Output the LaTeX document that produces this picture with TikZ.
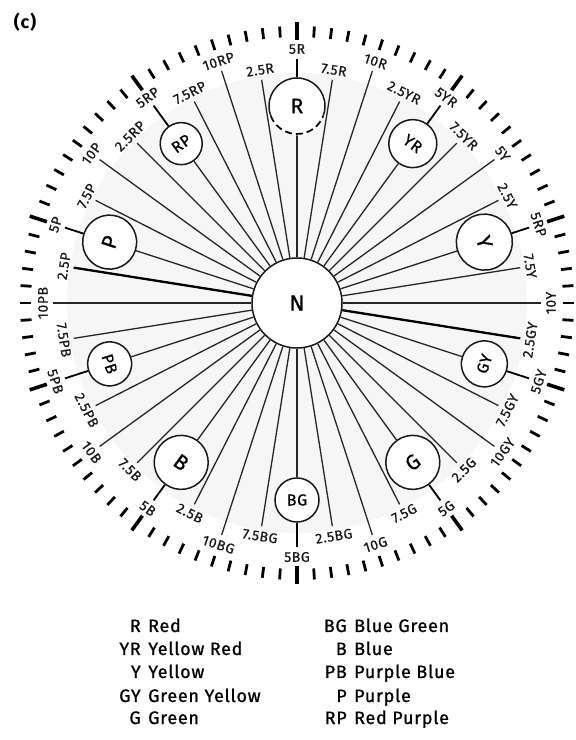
\documentclass[tikz,border=0pt]{standalone}
\usepackage{fontspec}
\setmainfont{Fira Sans}[LetterSpace=6]
\newfontfamily\labfont{Fira Sans}[LetterSpace=4,FakeBold=0.7]
\newfontfamily\legfont{Fira Sans}[LetterSpace=4,FakeBold=0.9]
\usetikzlibrary{calc}
\newcommand\rotfor[2]{%
  \pgfmathsetmacro\tmpan{180-mod(180-(#2),360)}%
  \pgfmathsetmacro#1{\tmpan>0 ? \tmpan-90 : \tmpan+90}}
\begin{document}
\begin{tikzpicture}[x=1pt,y=1pt,
  spoke/.style={line width=1.3pt, black!85},
  axisline/.style={line width=2.3pt, black},
  stub/.style={line width=1.8pt, black},
  huecirc/.style={circle, draw=black!90, line width=1.5pt, fill=white, inner sep=0pt},
  lbl/.style={font=\labfont\fontsize{14}{14}\selectfont, inner sep=0pt, text=black!90},
  tickmark/.style={line width=2.8pt, black},
  bigtick/.style={line width=3.6pt, black},
  legab/.style={anchor=base east, font=\legfont\fontsize{18}{18}\selectfont, inner sep=0pt},
  legname/.style={anchor=base west, font=\legfont\fontsize{18}{18}\selectfont, inner sep=0pt},
]
\useasboundingbox (0,0) rectangle (576,740);
\coordinate (O) at (297,437);
\fill[gray!7] (O) circle (230);
% outer ring of ticks
\foreach \k in {0,...,99}{
  \pgfmathsetmacro\a{90+3.6*\k}
  \pgfmathtruncatemacro\m{mod(\k,10)}
  \ifnum\m=0
    \draw[bigtick] ($(O)+(\a:263)$) -- ($(O)+(\a:281)$);
  \else
    \draw[tickmark] ($(O)+(\a:266)$) -- ($(O)+(\a:277)$);
  \fi
}
% neutral centre
\node[circle, draw=black!90, line width=1.5pt, fill=white, minimum size=90pt, inner sep=0pt,
      font=\labfont\fontsize{22}{22}\selectfont] (N) at (O) {N};
% hues
\foreach \h/\p/\cr/\fs/\ta/\tb/\tc/\td in {
  R/90/28/21/2.5R/5R/7.5R/10R,
  YR/54/24/16/2.5YR/5YR/7.5YR/5Y,
  Y/18/28/21/2.5Y/5RP/7.5Y/10Y,
  GY/-18/23/16/2.5GY/5GY/7.5GY/10GY,
  G/-54/27/21/2.5G/5G/7.5G/10G,
  BG/-90/22/16/2.5BG/5BG/7.5BG/10BG,
  B/-126/27/21/2.5B/5B/7.5B/10B,
  PB/-162/22/16/2.5PB/5PB/7.5PB/10PB,
  P/162/27/21/2.5P/5P/7.5P/10P,
  RP/126/21/16/2.5RP/5RP/7.5RP/10RP}{
  \pgfmathsetmacro\dia{2*\cr}
  \pgfmathsetmacro\pa{\p+9}
  \pgfmathsetmacro\pc{\p-9}
  \pgfmathsetmacro\pd{\p-18}
  \rotfor\rb{\p}
  \rotfor\ra{\pa}
  \rotfor\rc{\pc}
  \rotfor\rd{\pd}
  % circle with hue letter
  \node[huecirc, minimum size=\dia pt, rotate=\rb, font=\labfont\fontsize{\fs}{\fs}\selectfont]
       (c\h) at ($(O)+(\p:197)$) {\h};
  % end points
  \coordinate (e\h a) at ($(O)+(\pa:226)$);
  \coordinate (e\h b) at ($(O)+(\p:244)$);
  \coordinate (e\h c) at ($(O)+(\pc:226)$);
  \coordinate (e\h d) at ($(O)+(\pd:244)$);
  % spokes
  \draw[spoke] (N) -- (e\h a);
  \draw[spoke] (N) -- (c\h);
  \draw[stub] (c\h) -- (e\h b);
  \draw[spoke] (N) -- (e\h c);
  \draw[spoke] (N) -- (e\h d);
  % labels
  \node[lbl, rotate=\ra] (l\h a) at ($(O)+(\pa:236)$) {\ta};
  \node[lbl, rotate=\rb] (l\h b) at ($(O)+(\p:254)$) {\tb};
  \node[lbl, rotate=\rc] (l\h c) at ($(O)+(\pc:236)$) {\tc};
  \node[lbl, rotate=\rd] (l\h d) at ($(O)+(\pd:254)$) {\td};
}
% the bold axis 2.5P -- 2.5GY
\draw[axisline] (N) -- (ePa);
\draw[axisline] (N) -- (eGYa);
% dashed lower part of the R circle
\draw[white, line width=2.8pt] ([shift={(200:28)}]cR.center) arc[start angle=200, end angle=340, radius=28];
\draw[black, line width=1.7pt, dash pattern=on 7pt off 4pt] ([shift={(200:28)}]cR.center) arc[start angle=200, end angle=340, radius=28];
% panel letter
\node[font=\bfseries\fontsize{18}{18}\selectfont, inner sep=0pt] (tag) at (25,718) {(c)};
% legend
\node[legab] (kR) at (141,108) {R};   \node[legname] (nR) at (148,108) {Red};
\node[legab] (kYR) at (141,85) {YR};  \node[legname] (nYR) at (148,85) {Yellow Red};
\node[legab] (kY) at (141,62) {Y};    \node[legname] (nY) at (148,62) {Yellow};
\node[legab] (kGY) at (141,38) {GY};  \node[legname] (nGY) at (148,38) {Green Yellow};
\node[legab] (kG) at (141,16) {G};    \node[legname] (nG) at (148,16) {Green};
\node[legab] (kBG) at (347,108) {BG}; \node[legname] (nBG) at (354,108) {Blue Green};
\node[legab] (kB) at (347,85) {B};    \node[legname] (nB) at (354,85) {Blue};
\node[legab] (kPB) at (347,62) {PB};  \node[legname] (nPB) at (354,62) {Purple Blue};
\node[legab] (kP) at (347,38) {P};    \node[legname] (nP) at (354,38) {Purple};
\node[legab] (kRP) at (347,16) {RP};  \node[legname] (nRP) at (354,16) {Red Purple};
\end{tikzpicture}
\end{document}
